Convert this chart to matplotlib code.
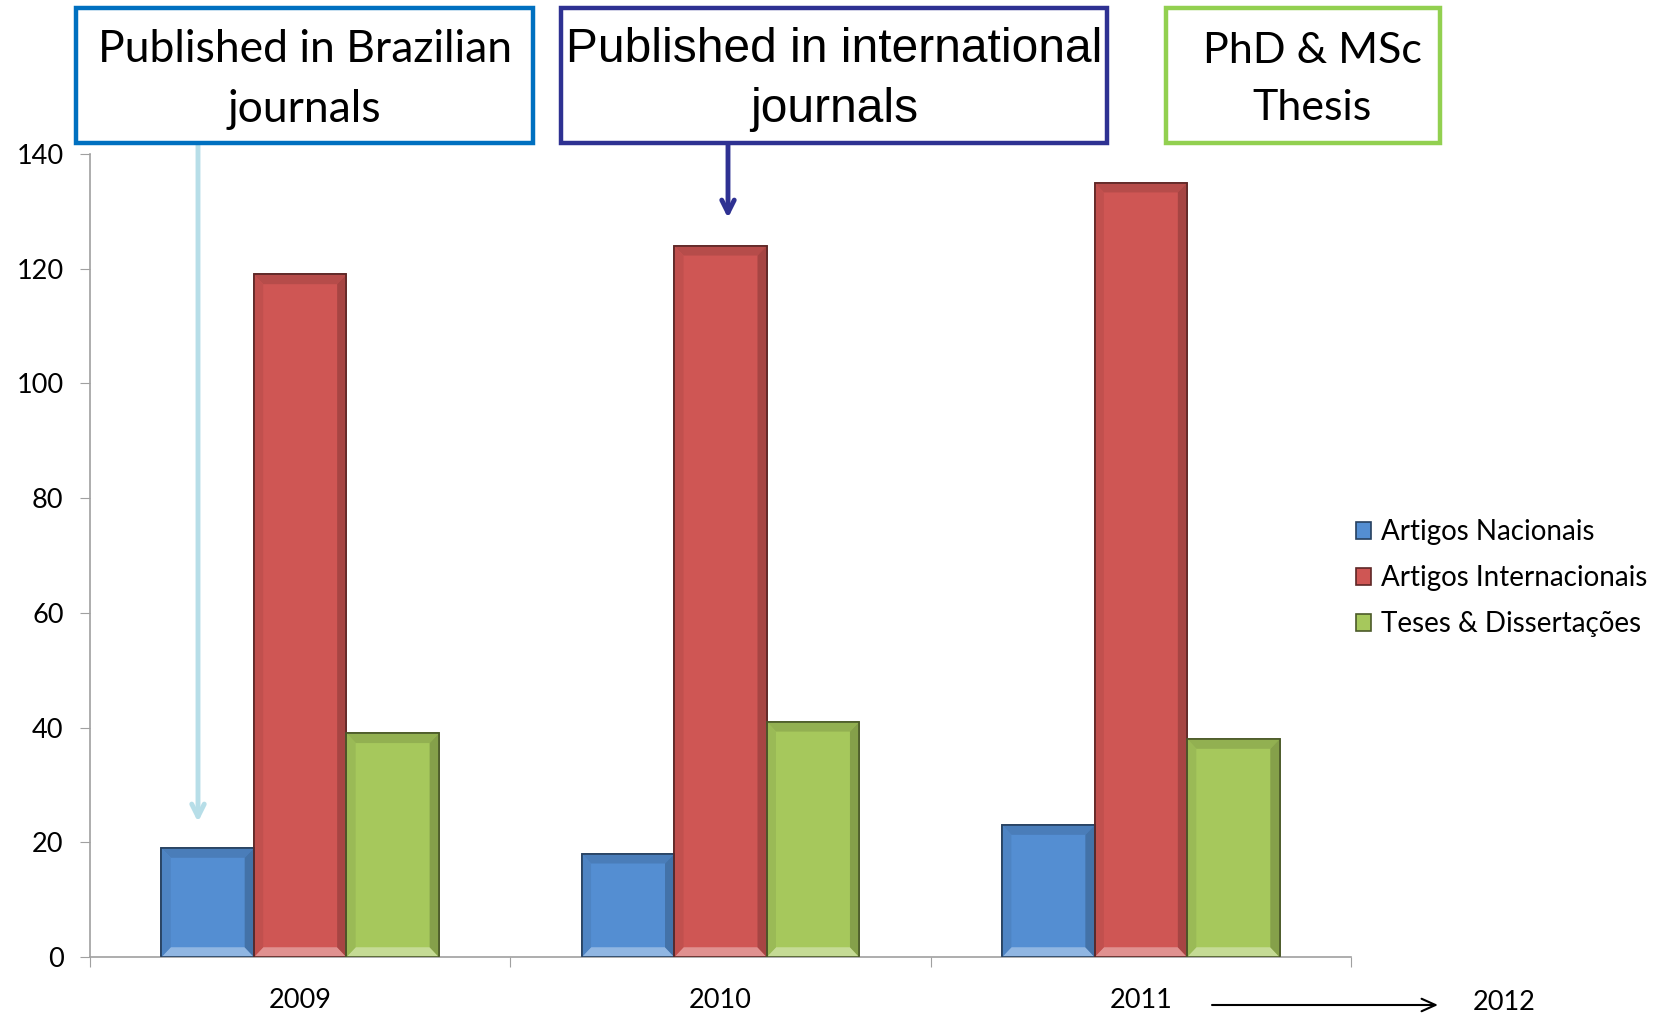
import matplotlib
matplotlib.use("Agg")
import matplotlib.pyplot as plt
from matplotlib.patches import Polygon, FancyBboxPatch
import matplotlib.colors as mcolors
import numpy as np

years = ["2009", "2010", "2011"]
series_names = ["Artigos Nacionais", "Artigos Internacionais", "Teses & Dissertações"]
nacionais = [19, 18, 23]
internacionais = [119, 124, 135]
teses = [39, 41, 38]
yticks = [0, 20, 40, 60, 80, 100, 120, 140]
box_texts = ["Published in Brazilian\njournals", "Published in international\njournals", "PhD & MSc\nThesis"]
extra_year = "2012"

colors = ["#548ED2", "#CF5654", "#A6C85C"]
FONT = ["Lato", "DejaVu Sans"]
plt.rcParams["font.family"] = FONT

W, H = 1664, 1019
fig = plt.figure(figsize=(W / 100, H / 100), dpi=100)
ax = fig.add_axes([90 / W, 1 - 957 / H, (1351 - 90) / W, (957 - 154) / H])

x = np.arange(len(years))
bw = 0.22
offsets = [-bw, 0, bw]
allvals = [nacionais, internacionais, teses]

def shade(c, f):
    r, g, b = mcolors.to_rgb(c)
    if f > 1:
        return (r + (1 - r) * (f - 1), g + (1 - g) * (f - 1), b + (1 - b) * (f - 1))
    return (r * f, g * f, b * f)

bx, by = 0.022, 1.7
for vals, off, col, name in zip(allvals, offsets, colors, series_names):
    bars = ax.bar(x + off, vals, bw, color=col, edgecolor=shade(col, 0.45), linewidth=1.2,
                  label=name, zorder=2)
    for rect in bars:
        x0 = rect.get_x()
        x1 = x0 + rect.get_width()
        h = rect.get_height()
        ax.add_patch(Polygon([(x0, 0), (x1, 0), (x1 - bx, by), (x0 + bx, by)],
                             closed=True, facecolor=shade(col, 1.35), edgecolor="none", zorder=3))
        ax.add_patch(Polygon([(x0, h), (x1, h), (x1 - bx, h - by), (x0 + bx, h - by)],
                             closed=True, facecolor=shade(col, 0.88), edgecolor="none", zorder=3))
        ax.add_patch(Polygon([(x1, 0), (x1, h), (x1 - bx, h - by), (x1 - bx, by)],
                             closed=True, facecolor=shade(col, 0.8), edgecolor="none", zorder=3))
        ax.add_patch(Polygon([(x0, 0), (x0, h), (x0 + bx, h - by), (x0 + bx, by)],
                             closed=True, facecolor=shade(col, 0.93), edgecolor="none", zorder=3))
        ax.add_patch(plt.Rectangle((x0, 0), x1 - x0, h, fill=False,
                                   edgecolor=shade(col, 0.45), linewidth=1.2, zorder=4))

ax.set_xlim(-0.5, len(years) - 0.5)
ax.set_ylim(0, 140)
ax.set_yticks(yticks)
ax.set_yticklabels([str(v) for v in yticks])
ax.set_xticks(np.arange(len(years) + 1) - 0.5)
ax.set_xticklabels([])
ax.set_xticks(x, minor=True)
ax.set_xticklabels(years, minor=True)
ax.tick_params(axis="x", which="major", length=7, color="#A0A0A0", direction="out")
ax.tick_params(axis="x", which="minor", length=0, pad=22, labelsize=19.5)
ax.tick_params(axis="y", length=7, color="#A0A0A0", pad=12, labelsize=19.5)
for s in ["top", "right"]:
    ax.spines[s].set_visible(False)
for s in ["left", "bottom"]:
    ax.spines[s].set_color("#A0A0A0")
    ax.spines[s].set_linewidth(1.2)

leg = ax.legend(loc="upper left", bbox_to_anchor=(1345 / W, 1 - 508 / H), bbox_transform=fig.transFigure,
                frameon=False, fontsize=20, handlelength=0.55, handleheight=0.55, handletextpad=0.35,
                labelspacing=0.72, borderaxespad=0)

boxes = [(76, 533, "#0070C0", 32, FONT, 1.55, 0), (561, 1107, "#2E3192", 34.5, ["Liberation Sans", "DejaVu Sans"], 1.45, 0),
         (1166, 1440, "#92D050", 31, FONT, 1.6, 9)]
for (bx0, bx1, ec, fs, fam, ls, dx), txt in zip(boxes, box_texts):
    y0, y1 = 8, 143
    p = FancyBboxPatch((bx0 / W, 1 - y1 / H), (bx1 - bx0) / W, (y1 - y0) / H,
                       boxstyle="square,pad=0", transform=fig.transFigure,
                       facecolor="white", edgecolor=ec, linewidth=3.2, zorder=5)
    fig.patches.append(p)
    fig.text(((bx0 + bx1) / 2 + dx) / W, 1 - ((y0 + y1) / 2 + 4) / H, txt, ha="center", va="center",
             fontsize=fs, family=fam, linespacing=ls, zorder=6)

ax.annotate("", xy=(198 / W, 1 - 822 / H), xytext=(198 / W, 1 - 145 / H),
            xycoords="figure fraction", textcoords="figure fraction",
            arrowprops=dict(arrowstyle="->,head_length=0.9,head_width=0.45", color="#B7DEE8", lw=3.5,
                            shrinkA=0, shrinkB=0))
ax.annotate("", xy=(728 / W, 1 - 218 / H), xytext=(728 / W, 1 - 145 / H),
            xycoords="figure fraction", textcoords="figure fraction",
            arrowprops=dict(arrowstyle="->,head_length=0.9,head_width=0.45", color="#2E3192", lw=3.5,
                            shrinkA=0, shrinkB=0))
ax.annotate("", xy=(1438 / W, 1 - 1005 / H), xytext=(1212 / W, 1 - 1005 / H),
            xycoords="figure fraction", textcoords="figure fraction",
            arrowprops=dict(arrowstyle="->,head_length=1.0,head_width=0.45", color="black", lw=1.5,
                            shrinkA=0, shrinkB=0))
fig.text(1504 / W, 1 - 1003 / H, extra_year, ha="center", va="center", fontsize=19.5)

fig.savefig("out.png", dpi=100)
